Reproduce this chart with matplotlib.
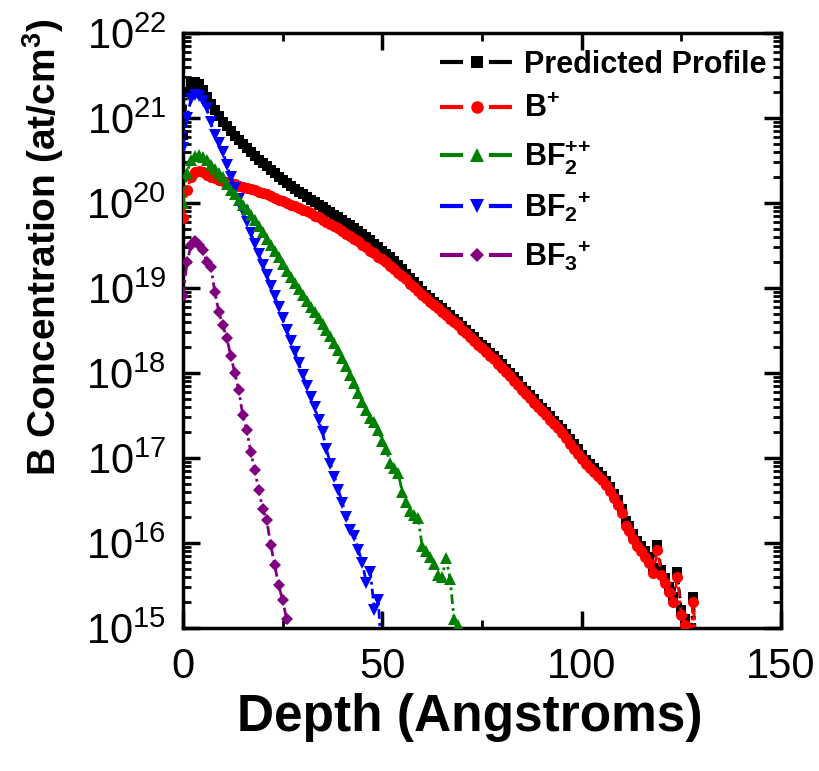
import numpy as np
import matplotlib
matplotlib.use("Agg")
import matplotlib.pyplot as plt
from matplotlib.lines import Line2D
from matplotlib.ticker import LogLocator, NullFormatter

# depth grid (Angstroms) and log10 of B concentration (at/cm^3)
depth_total = list(range(0, 130))
log_total = [20.8, 21.3, 21.4, 21.42, 21.4, 21.33, 21.25, 21.16, 21.09, 21.02,
             20.95, 20.9, 20.85, 20.79, 20.74, 20.69, 20.65, 20.6, 20.55, 20.51,
             20.47, 20.43, 20.39, 20.35, 20.31, 20.27, 20.23, 20.2, 20.16, 20.13,
             20.1, 20.07, 20.04, 20.01, 19.98, 19.95, 19.92, 19.89, 19.86, 19.83,
             19.8, 19.77, 19.74, 19.71, 19.67, 19.63, 19.6, 19.56, 19.52, 19.48,
             19.44, 19.4, 19.36, 19.32, 19.27, 19.22, 19.17, 19.12, 19.07, 19.02,
             18.97, 18.92, 18.88, 18.84, 18.8, 18.76, 18.72, 18.68, 18.64, 18.6,
             18.55, 18.51, 18.46, 18.42, 18.37, 18.33, 18.29, 18.24, 18.2, 18.15,
             18.1, 18.05, 18.0, 17.95, 17.9, 17.84, 17.79, 17.74, 17.69, 17.64,
             17.59, 17.54, 17.49, 17.44, 17.39, 17.34, 17.28, 17.22, 17.16, 17.1,
             17.04, 16.98, 16.93, 16.88, 16.84, 16.79, 16.73, 16.66, 16.58, 16.5,
             16.4, 16.26, 16.2, 16.11, 16.02, 15.96, 15.9, 15.83, 15.71, 15.98,
             15.68, 15.59, 15.48, 15.36, 15.66, 15.21, 15.1, 14.6, 15.37, 14.5]

depth_b = list(range(0, 130))
log_b = [19.82, 20.15, 20.3, 20.36, 20.38, 20.36, 20.33, 20.3, 20.29, 20.27,
         20.26, 20.25, 20.23, 20.22, 20.2, 20.19, 20.18, 20.16, 20.15, 20.13,
         20.12, 20.1, 20.08, 20.06, 20.04, 20.02, 20.0, 19.98, 19.96, 19.94,
         19.92, 19.9, 19.88, 19.85, 19.83, 19.8, 19.78, 19.75, 19.73, 19.7,
         19.67, 19.64, 19.61, 19.58, 19.55, 19.51, 19.48, 19.44, 19.41, 19.37,
         19.34, 19.3, 19.26, 19.22, 19.18, 19.14, 19.1, 19.05, 19.01, 18.97,
         18.92, 18.88, 18.84, 18.8, 18.76, 18.72, 18.68, 18.64, 18.6, 18.56,
         18.51, 18.47, 18.42, 18.38, 18.33, 18.29, 18.25, 18.2, 18.16, 18.11,
         18.06, 18.01, 17.96, 17.91, 17.86, 17.8, 17.75, 17.7, 17.65, 17.6,
         17.55, 17.5, 17.45, 17.4, 17.35, 17.29, 17.23, 17.17, 17.11, 17.05,
         16.99, 16.93, 16.88, 16.83, 16.79, 16.74, 16.68, 16.61, 16.53, 16.45,
         16.35, 16.2, 16.14, 16.05, 15.96, 15.9, 15.84, 15.77, 15.65, 15.92,
         15.62, 15.53, 15.42, 15.3, 15.6, 15.15, 15.04, 14.6, 15.31, 14.5]

depth_bf2pp = list(range(0, 71))
log_bf2pp = [20.0, 20.35, 20.5, 20.55, 20.56, 20.54, 20.5, 20.45, 20.4, 20.35,
             20.3, 20.22, 20.15, 20.1, 20.04, 19.98, 19.93, 19.86, 19.8, 19.73,
             19.66, 19.58, 19.5, 19.43, 19.36, 19.28, 19.2, 19.13, 19.06, 18.99,
             18.92, 18.85, 18.78, 18.72, 18.65, 18.58, 18.5, 18.43, 18.35, 18.27,
             18.18, 18.08, 17.98, 17.88, 17.77, 17.66, 17.56, 17.47, 17.42, 17.33,
             17.2, 17.1, 16.94, 16.88, 16.82, 16.6, 16.48, 16.38, 16.33, 16.29,
             15.96, 15.9, 15.84, 15.75, 15.62, 15.6, 15.82, 15.58, 15.1, 15.03,
             14.5]

depth_bf2p = list(range(0, 51))
log_bf2p = [20.65, 21.0, 21.22, 21.27, 21.26, 21.2, 21.12, 20.95, 20.8, 20.7,
            20.6, 20.45, 20.3, 20.18, 20.05, 19.9, 19.78, 19.65, 19.52, 19.4,
            19.27, 19.15, 19.02, 18.9, 18.78, 18.65, 18.5, 18.38, 18.25, 18.12,
            17.98, 17.85, 17.72, 17.6, 17.45, 17.3, 17.1, 16.93, 16.78, 16.62,
            16.47, 16.3, 16.15, 16.08, 15.92, 15.76, 15.53, 15.66, 15.21, 15.33,
            14.5]

depth_bf3p = list(range(0, 28))
log_bf3p = [18.9, 19.3, 19.5, 19.55, 19.5, 19.45, 19.3, 19.25, 18.95, 18.72,
            18.56, 18.41, 18.2, 18.0, 17.8, 17.5, 17.33, 17.07, 16.86, 16.62,
            16.4, 16.27, 15.98, 15.74, 15.5, 15.33, 15.1, 14.5]

labels = ["Predicted Profile",
          r"B$^{\mathbf{+}}$",
          r"BF$_{\mathbf{2}}^{\mathbf{{+}{+}}}$",
          r"BF$_{\mathbf{2}}$$^{\mathbf{+}}$",
          r"BF$_{\mathbf{3}}$$^{\mathbf{+}}$"]
colors = ["black", "red", "green", "blue", "purple"]
markers = ["s", "o", "^", "v", "D"]
msizes = [7, 8, 8.5, 8.5, 6.5]

decades = list(range(15, 23))
xticks = [0, 50, 100, 150]

plt.rcParams['font.family'] = ['Liberation Sans', 'DejaVu Sans']
plt.rcParams['mathtext.fontset'] = 'custom'
plt.rcParams['mathtext.rm'] = 'Liberation Sans'
plt.rcParams['mathtext.bf'] = 'Liberation Sans:bold'
plt.rcParams['lines.scale_dashes'] = False

fig = plt.figure(figsize=(8.19, 7.71), dpi=100)
ax = fig.add_axes([0.2234, 0.1855, 0.7302, 0.7717])

series = [(depth_total, log_total), (depth_b, log_b), (depth_bf2pp, log_bf2pp),
          (depth_bf2p, log_bf2p), (depth_bf3p, log_bf3p)]
zorders = [2, 3, 5, 4, 6]
line_dash = (7, 3, 2, 3)
for (dx, ly), c, m, ms, z in zip(series, colors, markers, msizes, zorders):
    ax.plot(dx, 10.0 ** np.array(ly), color=c, marker=m, markersize=ms,
            markeredgewidth=0, linewidth=2, dashes=line_dash, zorder=z)

ax.set_yscale('log')
ax.set_xlim(0, 150)
ax.set_ylim(1e15, 1e22)
ax.set_xticks(xticks)
ax.set_xticklabels([str(t) for t in xticks], fontsize=30)
ax.set_xticks([25, 75, 125], minor=True)
ax.set_yticks([10.0 ** e for e in decades])
ax.set_yticklabels([r'$\mathrm{10^{%d}}$' % e for e in decades], fontsize=30)
ax.yaxis.set_minor_locator(LogLocator(base=10, subs=np.arange(2, 10), numticks=30))
ax.yaxis.set_minor_formatter(NullFormatter())

ax.tick_params(which='major', direction='in', length=12, width=2.5, top=True, right=True)
ax.tick_params(which='minor', direction='in', length=6, width=2, top=True, right=True)
ax.tick_params(axis='y', pad=12)
ax.tick_params(axis='x', pad=14)
for s in ax.spines.values():
    s.set_linewidth(2.5)

ax.set_xlabel("Depth (Angstroms)", fontsize=37, fontweight='bold')
ax.xaxis.set_label_coords(0.48, -0.11)
ax.set_ylabel(r"B Concentration (at/cm$^{\mathbf{3}}$)", fontsize=28,
              fontweight='bold')
ax.yaxis.set_label_coords(-0.195, 0.64)

handles = [Line2D([], [], color=c, marker=m, markersize=ms + 1, markeredgewidth=0,
                  linewidth=3, dashes=(16.6, 18.6))
           for c, m, ms in zip(colors, markers, msizes)]
ax.legend(handles, labels, loc='upper left', bbox_to_anchor=(0.43, 0.972),
          frameon=False, borderpad=0, borderaxespad=0, handlelength=2.4,
          handletextpad=0.36, labelspacing=0.48,
          prop={'weight': 'bold', 'size': 22, 'family': 'Liberation Sans'})

plt.savefig("out.png", dpi=100)
